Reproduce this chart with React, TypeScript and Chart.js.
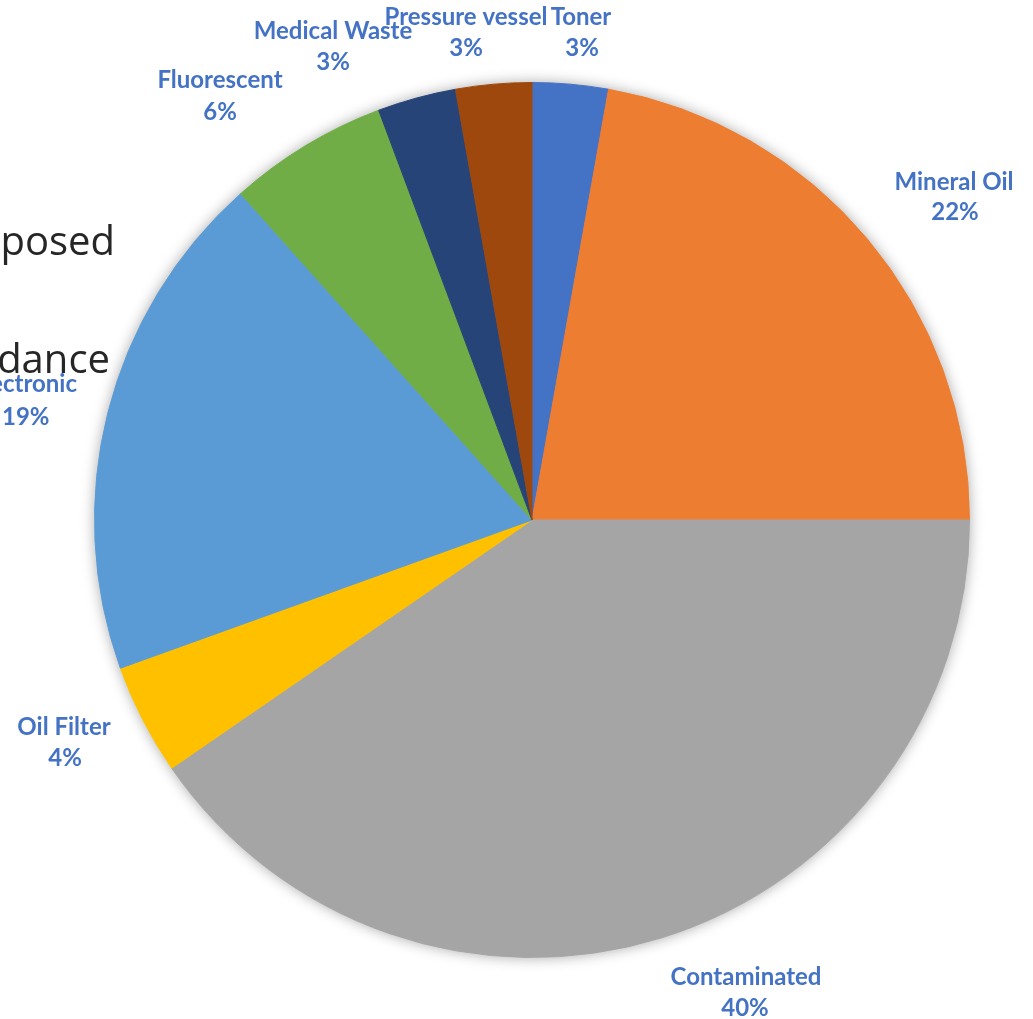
import React, { useEffect, useRef } from "react";
import { Chart, registerables } from "chart.js";

Chart.register(...registerables);

const categories = [
  "Toner",
  "Mineral Oil",
  "Contaminated",
  "Oil Filter",
  "Electronic",
  "Fluorescent",
  "Medical Waste",
  "Pressure vessel",
];
const values = [2.8, 22.2, 40.4, 4.1, 18.9, 5.9, 2.9, 2.8];
const colors = [
  "#4472C4",
  "#ED7D31",
  "#A5A5A5",
  "#FFC000",
  "#5B9BD5",
  "#70AD47",
  "#264478",
  "#9E480E",
];

// label anchor positions (layout): [nameX, nameY, nameAlign, pctX, pctY, pctAlign]
const labelLayout: [number, number, CanvasTextAlign, number, number, CanvasTextAlign][] = [
  [581, 17, "center", 582, 48, "center"],
  [954, 182, "center", 955, 212, "center"],
  [746, 977, "center", 745, 1008, "center"],
  [64, 727, "center", 65, 758, "center"],
  [77, 384, "right", 2, 417, "left"],
  [220, 80, "center", 220, 112, "center"],
  [333, 31, "center", 333, 62, "center"],
  [466, 17, "center", 466, 48, "center"],
];

const backgroundTexts: [string, number, number][] = [
  ["posed", 115, 255],
  ["dance", 110, 373],
];

export default function App() {
  const ref = useRef<HTMLCanvasElement | null>(null);
  useEffect(() => {
    if (!ref.current) return;
    const total = values.reduce((a, b) => a + b, 0);
    const chart = new Chart(ref.current, {
      type: "pie",
      data: {
        labels: categories,
        datasets: [
          {
            data: values,
            backgroundColor: colors,
            borderColor: colors,
            borderWidth: 1,
          },
        ],
      },
      options: {
        animation: false,
        responsive: true,
        maintainAspectRatio: false,
        layout: { padding: { left: 94, right: 63, top: 82, bottom: 61 } },
        plugins: {
          legend: { display: false },
          tooltip: { enabled: false },
        },
      },
      plugins: [
        {
          id: "bgAndShadow",
          beforeDatasetsDraw(c: any) {
            const ctx = c.ctx;
            ctx.save();
            ctx.fillStyle = "#262626";
            ctx.font = "40px 'Open Sans', sans-serif";
            ctx.textAlign = "right";
            ctx.textBaseline = "alphabetic";
            backgroundTexts.forEach(([t, x, y]) => ctx.fillText(t, x, y));
            const arc = c.getDatasetMeta(0).data[0] as any;
            ctx.beginPath();
            ctx.arc(arc.x, arc.y, arc.outerRadius, 0, Math.PI * 2);
            ctx.fillStyle = "#ffffff";
            ctx.shadowColor = "rgba(0,0,0,0.35)";
            ctx.shadowBlur = 14;
            ctx.fill();
            ctx.restore();
          },
        },
        {
          id: "labels",
          afterDatasetsDraw(c: any) {
            const ctx = c.ctx;
            ctx.save();
            ctx.fillStyle = "#4472C4";
            ctx.font = "bold 24px Lato, sans-serif";
            ctx.textBaseline = "middle";
            categories.forEach((name, i) => {
              const [nx, ny, na, px, py, pa] = labelLayout[i];
              const pct = Math.round((values[i] / total) * 100) + "%";
              ctx.textAlign = na;
              ctx.fillText(name, nx, ny);
              ctx.textAlign = pa;
              ctx.fillText(pct, px, py);
            });
            ctx.restore();
          },
        },
      ],
    });
    return () => chart.destroy();
  }, []);
  return (
    <div style={{ position: "fixed", left: 0, top: 0, width: 1033, height: 1019, background: "#fff" }}>
      <canvas ref={ref} />
    </div>
  );
}
